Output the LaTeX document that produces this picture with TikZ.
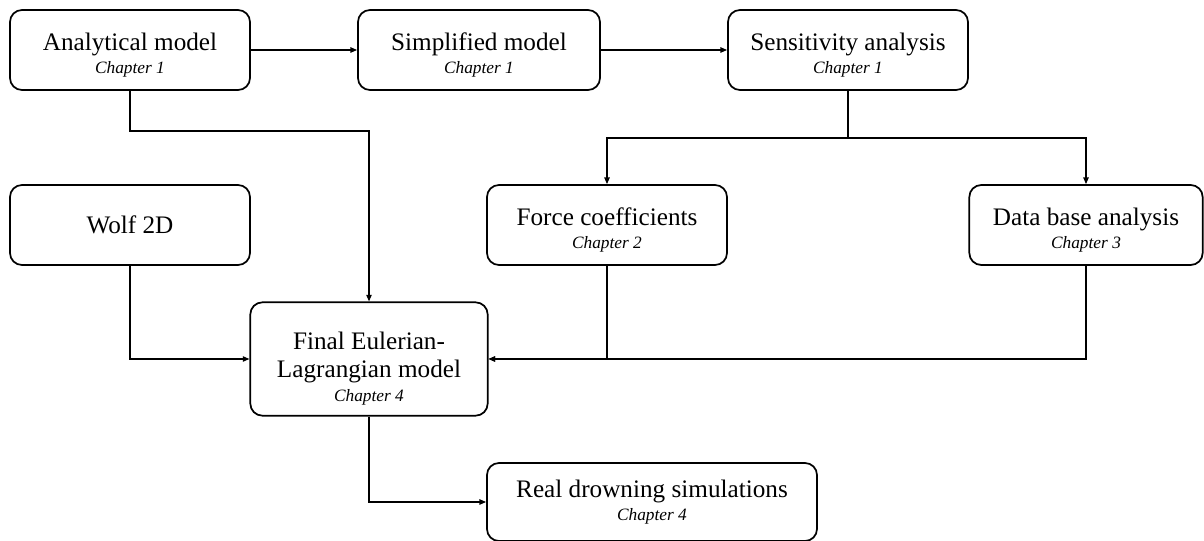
\documentclass[tikz,border=0pt]{standalone}
\usepackage{fontspec}
\setmainfont{Liberation Serif}
\usetikzlibrary{arrows.meta}

\tikzset{every picture/.style={line width=0.75pt}}
\newcommand{\titlefont}{\fontsize{18.9}{21}\selectfont}
\newcommand{\chapfont}{\fontsize{13}{15}\selectfont\itshape}
\tikzset{
  block/.style={draw, rounded corners=9pt, line width=1.3pt, align=center,
    font=\titlefont, minimum width=180pt, minimum height=60pt, inner sep=0pt},
  link/.style={line width=1pt, -{Triangle[length=5pt,width=4pt]}},
  plain/.style={line width=1pt}
}
\newcommand{\boxtext}[2]{\rule{0pt}{21pt}#1\\[-3.6pt]\chapfont #2}

\begin{document}
\begin{tikzpicture}[x=0.75pt,y=0.75pt,yscale=-1,xscale=1]
		\useasboundingbox (0,0) rectangle (1204,541);
		
		%top row
		\node[block] (ana) at (130,50) {\boxtext{Analytical model}{Chapter 1}};
		\node[block, minimum width=181.5pt] (simp) at (479,50) {\boxtext{Simplified model}{Chapter 1}};
		\node[block] (sens) at (848,50) {\boxtext{Sensitivity analysis}{Chapter 1}};
		
		%middle row
		\node[block] (wolf) at (130,225) {Wolf 2D};
		\node[block] (force) at (607,225) {\boxtext{Force coefficients}{Chapter 2}};
		\node[block, minimum width=175pt] (db) at (1086,225) {\boxtext{Data base analysis}{Chapter 3}};
		
		%final model and simulations
		\node[block, minimum width=178pt, minimum height=85pt] (fin) at (369,359) {\rule{0pt}{27pt}Final Eulerian-\\Lagrangian model\\[-3pt]\chapfont Chapter 4};
		\node[block, minimum width=247.5pt, minimum height=58.5pt] (real) at (652,502) {Real drowning simulations\\[-3.6pt]\chapfont Chapter 4};
		
		%connectors
		\draw[link] (ana) -- (simp);
		\draw[link] (simp) -- (sens);
		\draw[link] (ana.south) -- ++(0,40) -| (fin.north);
		\draw[plain] (sens.south) -- ++(0,47) coordinate (split);
		\draw[link] (split) -| (force.north);
		\draw[link] (split) -| (db.north);
		\draw[link] (wolf.south) |- (fin.west);
		\draw[link] (force.south) |- (fin.east);
		\draw[link] (db.south) |- (fin.east);
		\draw[link] (fin.south) |- (real.west);
		
\end{tikzpicture}
\end{document}
